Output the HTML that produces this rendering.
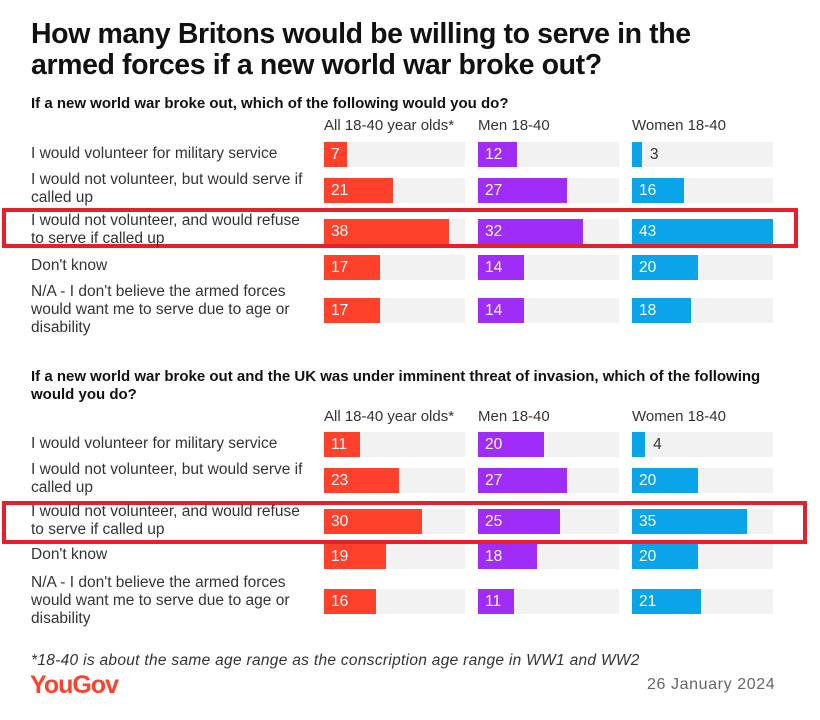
<!DOCTYPE html>
<html><head><meta charset="utf-8"><style>
body{margin:0;width:820px;height:720px;background:#fff;font-family:"Liberation Sans",sans-serif;position:relative;overflow:hidden;color:#222}
.abs{position:absolute}
.title{left:31px;top:19px;font-size:28.5px;font-weight:bold;line-height:31px;letter-spacing:-0.4px;color:#111;white-space:nowrap}
.sub{left:31px;font-size:15px;font-weight:bold;color:#111;line-height:18px}
.hdr{font-size:15px;color:#333;white-space:nowrap}
.lbl{left:31px;font-size:15.5px;color:#333;line-height:18px;width:284px}
.track{background:#f2f2f2;height:25px}
.bar{height:25px}
.val{font-size:15.5px;line-height:25px}
.box{border:4px solid #e4202a;box-sizing:border-box}
</style></head><body>
<div class="abs title">How many Britons would be willing to serve in the<br>armed forces if a new world war broke out?</div>
<div class="abs sub" style="top:95px">If a new world war broke out, which of the following would you do?</div>
<div class="abs sub" style="top:368px;width:760px">If a new world war broke out and the UK was under imminent threat of invasion, which of the following would you do?</div>
<div class="abs box" style="left:2px;top:208px;width:796px;height:40px"></div>
<div class="abs box" style="left:2px;top:501px;width:805px;height:43px"></div>
<div class="abs" style="left:31px;top:652px;font-size:15.5px;font-style:italic;color:#333;letter-spacing:0.3px;white-space:nowrap">*18-40 is about the same age range as the conscription age range in WW1 and WW2</div>
<div class="abs" style="left:30px;top:671px;font-size:25px;font-weight:bold;color:#ff412c;letter-spacing:-1px">YouGov</div>
<div class="abs" style="left:647px;top:676px;font-size:16px;color:#666;letter-spacing:0.6px;white-space:nowrap">26 January 2024</div>
<div id="chart"></div>
<script>
const groups = ["All 18-40 year olds*","Men 18-40","Women 18-40"];
const categories = ["I would volunteer for military service","I would not volunteer, but would serve if called up","I would not volunteer, and would refuse to serve if called up","Don't know","N/A - I don't believe the armed forces would want me to serve due to age or disability"];
const q1All = [7,21,38,17,17];
const q1Men = [12,27,32,14,14];
const q1Women = [3,16,43,20,18];
const q2All = [11,23,30,19,16];
const q2Men = [20,27,25,18,11];
const q2Women = [4,20,35,20,21];
const colors = ["#ff412c","#a02cf7","#0aa4e8"];
const colX = [324,478,632];
const trackW = 141;
const maxV = 43;
function xs(v){return v/maxV*trackW;}
const chart = document.getElementById('chart');
function panel(series, hdrTop, rowTops, labelTops, p){
  groups.forEach((g,gi)=>{
    const h=document.createElement('div');
    h.className='abs hdr';h.style.left=colX[gi]+'px';h.style.top=hdrTop+'px';h.textContent=g;
    
    
    chart.appendChild(h);
  });
  categories.forEach((c,ci)=>{
    const l=document.createElement('div');
    l.className='abs lbl';l.style.top=labelTops[ci]+'px';l.textContent=c;
    
    
    chart.appendChild(l);
    series.forEach((s,gi)=>{
      const v=s[ci];
      const t=document.createElement('div');
      t.className='abs track';t.style.left=colX[gi]+'px';t.style.top=rowTops[ci]+'px';t.style.width=trackW+'px';
      
      
      chart.appendChild(t);
      const b=document.createElement('div');
      b.className='abs bar';b.style.left=colX[gi]+'px';b.style.top=rowTops[ci]+'px';b.style.width=xs(v)+'px';b.style.background=colors[gi];
      
      
      chart.appendChild(b);
      const tx=document.createElement('div');
      tx.className='abs val';tx.style.top=rowTops[ci]+'px';tx.textContent=v;
      if(xs(v)<18){tx.style.left=(colX[gi]+xs(v)+8)+'px';tx.style.color='#333';}
      else{tx.style.left=(colX[gi]+7)+'px';tx.style.color='#fff';}
      
      
      chart.appendChild(tx);
    });
  });
}
panel([q1All,q1Men,q1Women],117,[142,178,219,255,298],[145,171,212,257,283],'q1');
panel([q2All,q2Men,q2Women],408,[432,468,509,544,589],[435,461,503,546,574],'q2');
</script>
</body></html>
